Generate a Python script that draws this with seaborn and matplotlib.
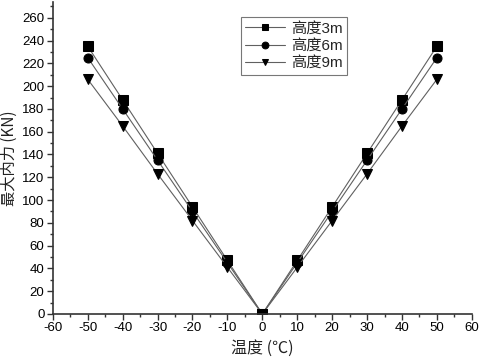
import matplotlib
matplotlib.use("Agg")
import matplotlib.pyplot as plt
import seaborn as sns
import pandas as pd
from matplotlib.ticker import MultipleLocator

temps = [-50, -40, -30, -20, -10, 0, 10, 20, 30, 40, 50]
h3 = [235, 188, 141, 94, 47, 0, 47, 94, 141, 188, 235]
h6 = [225, 180, 135, 90, 45, 0, 45, 90, 135, 180, 225]
h9 = [206, 165, 123, 82, 41, 0, 41, 82, 123, 165, 206]
labels = ["高度3m", "高度6m", "高度9m"]
markers = ["s", "o", "v"]

sns.set_theme(style="white")
plt.rcParams["font.family"] = ["Liberation Sans", "Noto Sans CJK SC", "DejaVu Sans"]
plt.rcParams["axes.unicode_minus"] = False

fig = plt.figure(figsize=(4.8, 3.63), dpi=100)
ax = fig.add_axes([0.110, 0.135, 0.873, 0.86])

for vals, lab, mk in zip([h3, h6, h9], labels, markers):
    df = pd.DataFrame({"t": temps, "f": vals})
    sns.lineplot(data=df, x="t", y="f", ax=ax, color="#606060", linewidth=0.8,
                 marker=mk, markersize=6.5, markerfacecolor="black",
                 markeredgecolor="black", label=lab)

ax.set_xlim(-60, 60)
ax.set_ylim(0, 274)
ax.xaxis.set_major_locator(MultipleLocator(10))
ax.xaxis.set_minor_locator(MultipleLocator(5))
ax.yaxis.set_major_locator(MultipleLocator(20))
ax.yaxis.set_minor_locator(MultipleLocator(10))
ax.tick_params(axis="both", which="major", direction="out", length=4, width=1,
               labelsize=9.5, labelcolor="black", color="#333333",
               bottom=True, left=True, pad=2)
ax.tick_params(axis="both", which="minor", direction="out", length=2.5, width=1,
               color="#333333", bottom=True, left=True)
for s in ["top", "right"]:
    ax.spines[s].set_visible(False)
for s in ["left", "bottom"]:
    ax.spines[s].set_color("#333333")
    ax.spines[s].set_linewidth(1.2)

ax.set_xlabel("温度 (℃)", fontsize=11.5, color="#222222",
              family=["Noto Sans CJK SC", "DejaVu Sans"], labelpad=4)
ax.set_ylabel("最大内力 (KN)", fontsize=11, color="#222222",
              family=["Noto Sans CJK SC", "DejaVu Sans"], labelpad=3)

leg = ax.legend(loc="upper left", bbox_to_anchor=(0.43, 0.975),
                frameon=True, fancybox=False, edgecolor="#555555",
                handlelength=2.6, handletextpad=0.4, borderpad=0.3,
                labelspacing=0.2, markerscale=0.75,
                prop={"family": ["Liberation Sans", "Noto Sans CJK SC", "DejaVu Sans"], "size": 11})
leg.get_frame().set_linewidth(0.8)

fig.savefig("out.png", dpi=100)
